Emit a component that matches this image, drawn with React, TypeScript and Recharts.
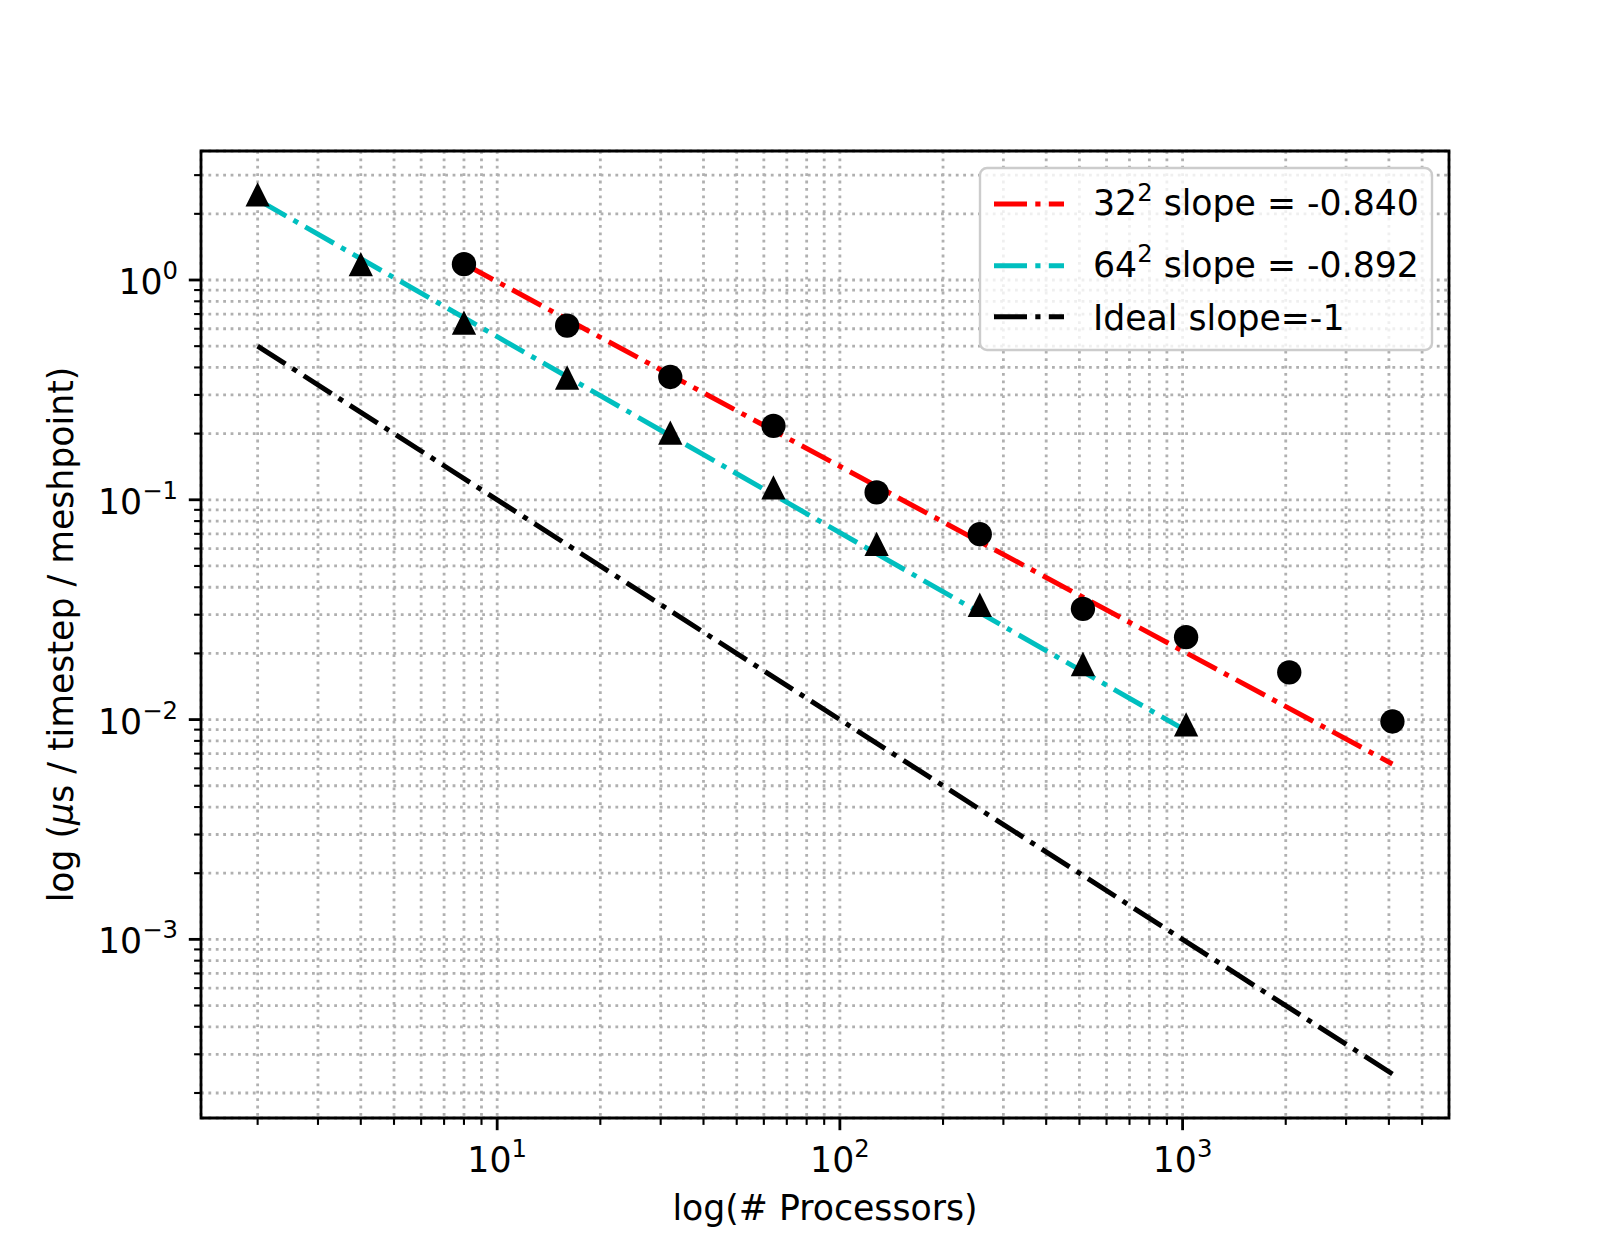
import React from 'react';
import {
  ComposedChart,
  Line,
  Scatter,
  XAxis,
  YAxis,
  CartesianGrid,
  ReferenceArea,
  Legend,
} from 'recharts';

// measured timings, 32^2 mesh (circles)
const procs32 = [8, 16, 32, 64, 128, 256, 512, 1024, 2048, 4096];
const time32 = [1.18, 0.62, 0.362, 0.217, 0.108, 0.0697, 0.0319, 0.0237, 0.0164, 0.0098];

// measured timings, 64^2 mesh (triangles)
const procs64 = [2, 4, 8, 16, 32, 64, 128, 256, 512, 1024];
const time64 = [2.45, 1.18, 0.64, 0.36, 0.202, 0.114, 0.063, 0.0333, 0.0179, 0.0095];

// fitted / reference lines, end points
const fit32Procs = [8, 4096];
const fit32Time = [1.185, 0.00628];
const fit64Procs = [2, 1024];
const fit64Time = [2.32, 0.0089];
const idealProcs = [2, 4096];
const idealTime = [0.5, 0.000244];

const xTicks = [
  2, 3, 4, 5, 6, 7, 8, 9,
  10, 20, 30, 40, 50, 60, 70, 80, 90,
  100, 200, 300, 400, 500, 600, 700, 800, 900,
  1000, 2000, 3000, 4000, 5000,
];
const yTicks = [
  0.0002, 0.0003, 0.0004, 0.0005, 0.0006, 0.0007, 0.0008, 0.0009,
  0.001, 0.002, 0.003, 0.004, 0.005, 0.006, 0.007, 0.008, 0.009,
  0.01, 0.02, 0.03, 0.04, 0.05, 0.06, 0.07, 0.08, 0.09,
  0.1, 0.2, 0.3, 0.4, 0.5, 0.6, 0.7, 0.8, 0.9,
  1, 2, 3,
];

const legendItems = [
  { base: '32', sup: '2', rest: ' slope = -0.840', color: '#ff0000' },
  { base: '64', sup: '2', rest: ' slope = -0.892', color: '#00bfbf' },
  { base: '', sup: '', rest: 'Ideal slope=-1', color: '#000000' },
];

const X_DOMAIN = [1.367, 5990];
const Y_DOMAIN = [1.539e-4, 3.863];

const FONT = '"DejaVu Sans", sans-serif';
const FS = 34.7;
const SUP_FS = 24.3;
const DASH_DOT = '33 8.3 5.2 8.3';

const zip = (xs: number[], ys: number[]) => xs.map((x, i) => ({ x, y: ys[i] }));

const isMajor = (v: number) => {
  const l = Math.log10(v);
  return Math.abs(l - Math.round(l)) < 1e-6;
};

const expText = (v: number) => {
  const e = Math.round(Math.log10(v));
  return e < 0 ? '\u2212' + Math.abs(e) : String(e);
};

const XTick = (props: any) => {
  const { x, y, payload } = props;
  const major = isMajor(payload.value);
  return (
    <g>
      <line
        x1={x}
        y1={y}
        x2={x}
        y2={y + (major ? 12.2 : 6.9)}
        stroke="#000"
        strokeWidth={major ? 2.8 : 2.1}
      />
      {major && (
        <text x={x} y={y + 53.7} textAnchor="middle" fontSize={FS} fontFamily={FONT} fill="#000">
          <tspan>10</tspan>
          <tspan dy={-14.4} fontSize={SUP_FS}>{expText(payload.value)}</tspan>
        </text>
      )}
    </g>
  );
};

const YTick = (props: any) => {
  const { x, y, payload } = props;
  const major = isMajor(payload.value);
  return (
    <g>
      <line
        x1={x}
        y1={y}
        x2={x - (major ? 12.2 : 6.9)}
        y2={y}
        stroke="#000"
        strokeWidth={major ? 2.8 : 2.1}
      />
      {major && (
        <text x={x - 23} y={y + 14} textAnchor="end" fontSize={FS} fontFamily={FONT} fill="#000">
          <tspan>10</tspan>
          <tspan dy={-15} fontSize={SUP_FS}>{expText(payload.value)}</tspan>
        </text>
      )}
    </g>
  );
};

const XTitle = (props: any) => {
  const vb = props.viewBox;
  return (
    <text
      x={vb.x + vb.width / 2}
      y={vb.y + 102}
      textAnchor="middle"
      fontSize={FS}
      fontFamily={FONT}
      fill="#000"
    >
      log(# Processors)
    </text>
  );
};

const YTitle = (props: any) => {
  const vb = props.viewBox;
  const cx = vb.x + vb.width - 128;
  const cy = vb.y + vb.height / 2;
  return (
    <text
      x={cx}
      y={cy}
      transform={`rotate(-90, ${cx}, ${cy})`}
      textAnchor="middle"
      fontSize={FS}
      fontFamily={FONT}
      fill="#000"
      style={{ whiteSpace: 'pre' }}
    >
      <tspan>log (</tspan>
      <tspan fontStyle="italic">μ</tspan>
      <tspan>s / timestep / meshpoint)</tspan>
    </text>
  );
};

const LegendBox = () => (
  <svg width={456} height={186} style={{ display: 'block' }}>
    <rect
      x={2}
      y={2}
      width={452}
      height={182}
      rx={7}
      ry={7}
      fill="rgba(255,255,255,0.8)"
      stroke="#cccccc"
      strokeWidth={2.4}
    />
    {legendItems.map((item, i) => {
      const lineY = [38, 99.7, 150.7][i];
      const textY = [49, 110.7, 164][i];
      return (
        <g key={item.rest}>
          <line
            x1={16}
            y1={lineY}
            x2={86}
            y2={lineY}
            stroke={item.color}
            strokeWidth={5}
            strokeDasharray={DASH_DOT}
          />
          <text x={115} y={textY} fontSize={FS} fontFamily={FONT} fill="#000" style={{ whiteSpace: 'pre' }}>
            {item.base && <tspan>{item.base}</tspan>}
            {item.sup && (
              <tspan dy={-14.5} fontSize={SUP_FS}>
                {item.sup}
              </tspan>
            )}
            <tspan dy={item.sup ? 14.5 : 0}>{item.rest}</tspan>
          </text>
        </g>
      );
    })}
  </svg>
);

const Marker = (kind: 'circle' | 'triangle') => (p: any) => {
  const { cx, cy } = p;
  const h = 12.15;
  if (kind === 'circle') return <circle cx={cx} cy={cy} r={h} fill="#000" />;
  return (
    <polygon
      points={`${cx},${cy - h} ${cx - h},${cy + h} ${cx + h},${cy + h}`}
      fill="#000"
    />
  );
};

const App: React.FC = () => {
  return (
    <div style={{ position: 'absolute', left: 0, top: 0, background: '#fff' }}>
      <ComposedChart
        width={1610}
        height={1256}
        margin={{ top: 151, right: 161, bottom: 58, left: 81 }}
      >
        <CartesianGrid stroke="#b0b0b0" strokeWidth={2.8} strokeDasharray="2.8 4.6" />
        <XAxis
          dataKey="x"
          type="number"
          scale="log"
          domain={X_DOMAIN}
          allowDataOverflow
          ticks={xTicks}
          interval={0}
          tick={(p: any) => <XTick {...p} />}
          tickLine={false}
          axisLine={false}
          tickSize={0}
          tickMargin={0}
          height={80}
          label={{ content: XTitle }}
        />
        <YAxis
          dataKey="y"
          type="number"
          scale="log"
          domain={Y_DOMAIN}
          allowDataOverflow
          ticks={yTicks}
          interval={0}
          tick={(p: any) => <YTick {...p} />}
          tickLine={false}
          axisLine={false}
          tickSize={0}
          tickMargin={0}
          width={120}
          label={{ content: YTitle }}
        />
        <ReferenceArea
          x1={X_DOMAIN[0]}
          x2={X_DOMAIN[1]}
          y1={Y_DOMAIN[0]}
          y2={Y_DOMAIN[1]}
          fill="none"
          fillOpacity={0}
          stroke="#000"
          strokeWidth={2.8}
          strokeOpacity={1}
        />
        <Line
          data={zip(fit32Procs, fit32Time)}
          dataKey="y"
          stroke="#ff0000"
          strokeWidth={5}
          strokeDasharray={DASH_DOT}
          dot={false}
          activeDot={false}
          legendType="none"
          isAnimationActive={false}
        />
        <Line
          data={zip(fit64Procs, fit64Time)}
          dataKey="y"
          stroke="#00bfbf"
          strokeWidth={5}
          strokeDasharray={DASH_DOT}
          dot={false}
          activeDot={false}
          legendType="none"
          isAnimationActive={false}
        />
        <Line
          data={zip(idealProcs, idealTime)}
          dataKey="y"
          stroke="#000000"
          strokeWidth={5}
          strokeDasharray={DASH_DOT}
          dot={false}
          activeDot={false}
          legendType="none"
          isAnimationActive={false}
        />
        <Scatter
          data={zip(procs32, time32)}
          dataKey="y"
          shape={Marker('circle')}
          legendType="none"
          isAnimationActive={false}
        />
        <Scatter
          data={zip(procs64, time64)}
          dataKey="y"
          shape={Marker('triangle')}
          legendType="none"
          isAnimationActive={false}
        />
        <Legend
          layout="horizontal"
          verticalAlign="middle"
          align="center"
          content={() => <LegendBox />}
          wrapperStyle={{ left: 978, top: 166, width: 456, height: 186, margin: 0 }}
        />
      </ComposedChart>
    </div>
  );
};

export default App;
